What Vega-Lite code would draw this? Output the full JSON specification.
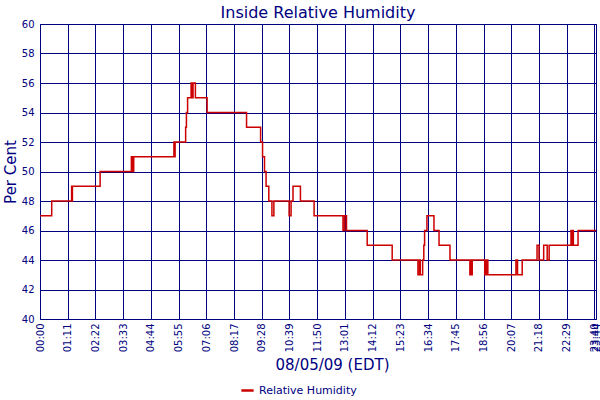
{
  "$schema": "https://vega.github.io/schema/vega-lite/v6.json",
  "width": 556,
  "height": 295,
  "autosize": "none",
  "padding": {"left": 40, "top": 24, "right": 4, "bottom": 81},
  "background": "white",
  "title": {"text": "Inside Relative Humidity", "fontSize": 16, "font": "DejaVu Sans", "fontWeight": "normal", "color": "#000080", "offset": -2, "anchor": "middle"},
  "config": {
    "view": {"stroke": "#000080", "strokeWidth": 1},
    "axis": {"gridColor": "#000080", "gridOpacity": 1, "gridWidth": 1, "domain": false, "ticks": false, "labelColor": "#000080", "labelFont": "DejaVu Sans", "labelFontSize": 10, "titleColor": "#000080", "titleFont": "DejaVu Sans", "titleFontWeight": "normal", "titleFontSize": 15}
  },
  "data": {"values": [
    {"t": 0, "v": 47, "s": "Relative Humidity"},
    {"t": 30, "v": 48, "s": "Relative Humidity"},
    {"t": 81, "v": 49, "s": "Relative Humidity"},
    {"t": 82, "v": 48, "s": "Relative Humidity"},
    {"t": 83, "v": 49, "s": "Relative Humidity"},
    {"t": 154, "v": 50, "s": "Relative Humidity"},
    {"t": 234, "v": 51, "s": "Relative Humidity"},
    {"t": 237, "v": 50, "s": "Relative Humidity"},
    {"t": 240, "v": 51, "s": "Relative Humidity"},
    {"t": 343, "v": 52, "s": "Relative Humidity"},
    {"t": 344, "v": 51, "s": "Relative Humidity"},
    {"t": 346, "v": 52, "s": "Relative Humidity"},
    {"t": 373, "v": 53, "s": "Relative Humidity"},
    {"t": 375, "v": 54, "s": "Relative Humidity"},
    {"t": 378, "v": 55, "s": "Relative Humidity"},
    {"t": 387, "v": 56, "s": "Relative Humidity"},
    {"t": 390, "v": 55, "s": "Relative Humidity"},
    {"t": 392, "v": 56, "s": "Relative Humidity"},
    {"t": 398, "v": 55, "s": "Relative Humidity"},
    {"t": 428, "v": 54, "s": "Relative Humidity"},
    {"t": 529, "v": 53, "s": "Relative Humidity"},
    {"t": 565, "v": 52, "s": "Relative Humidity"},
    {"t": 570, "v": 51, "s": "Relative Humidity"},
    {"t": 575, "v": 50, "s": "Relative Humidity"},
    {"t": 579, "v": 49, "s": "Relative Humidity"},
    {"t": 586, "v": 48, "s": "Relative Humidity"},
    {"t": 594, "v": 47, "s": "Relative Humidity"},
    {"t": 599, "v": 48, "s": "Relative Humidity"},
    {"t": 638, "v": 47, "s": "Relative Humidity"},
    {"t": 643, "v": 48, "s": "Relative Humidity"},
    {"t": 648, "v": 49, "s": "Relative Humidity"},
    {"t": 667, "v": 48, "s": "Relative Humidity"},
    {"t": 702, "v": 47, "s": "Relative Humidity"},
    {"t": 776, "v": 46, "s": "Relative Humidity"},
    {"t": 780, "v": 47, "s": "Relative Humidity"},
    {"t": 785, "v": 46, "s": "Relative Humidity"},
    {"t": 838, "v": 45, "s": "Relative Humidity"},
    {"t": 902, "v": 44, "s": "Relative Humidity"},
    {"t": 968, "v": 43, "s": "Relative Humidity"},
    {"t": 972, "v": 44, "s": "Relative Humidity"},
    {"t": 974, "v": 43, "s": "Relative Humidity"},
    {"t": 980, "v": 44, "s": "Relative Humidity"},
    {"t": 983, "v": 45, "s": "Relative Humidity"},
    {"t": 985, "v": 46, "s": "Relative Humidity"},
    {"t": 991, "v": 47, "s": "Relative Humidity"},
    {"t": 1009, "v": 46, "s": "Relative Humidity"},
    {"t": 1022, "v": 45, "s": "Relative Humidity"},
    {"t": 1050, "v": 44, "s": "Relative Humidity"},
    {"t": 1101, "v": 43, "s": "Relative Humidity"},
    {"t": 1103, "v": 44, "s": "Relative Humidity"},
    {"t": 1105, "v": 43, "s": "Relative Humidity"},
    {"t": 1107, "v": 44, "s": "Relative Humidity"},
    {"t": 1139, "v": 43, "s": "Relative Humidity"},
    {"t": 1141, "v": 44, "s": "Relative Humidity"},
    {"t": 1143, "v": 43, "s": "Relative Humidity"},
    {"t": 1145, "v": 44, "s": "Relative Humidity"},
    {"t": 1147, "v": 43, "s": "Relative Humidity"},
    {"t": 1219, "v": 44, "s": "Relative Humidity"},
    {"t": 1223, "v": 43, "s": "Relative Humidity"},
    {"t": 1235, "v": 44, "s": "Relative Humidity"},
    {"t": 1273, "v": 45, "s": "Relative Humidity"},
    {"t": 1278, "v": 44, "s": "Relative Humidity"},
    {"t": 1290, "v": 45, "s": "Relative Humidity"},
    {"t": 1299, "v": 44, "s": "Relative Humidity"},
    {"t": 1304, "v": 45, "s": "Relative Humidity"},
    {"t": 1360, "v": 46, "s": "Relative Humidity"},
    {"t": 1362, "v": 45, "s": "Relative Humidity"},
    {"t": 1364, "v": 46, "s": "Relative Humidity"},
    {"t": 1366, "v": 45, "s": "Relative Humidity"},
    {"t": 1378, "v": 46, "s": "Relative Humidity"},
    {"t": 1424, "v": 46, "s": "Relative Humidity"}
  ]},
  "mark": {"type": "line", "interpolate": "step-after", "strokeWidth": 1.5, "clip": true},
  "encoding": {
    "x": {"field": "t", "type": "quantitative",
      "scale": {"domain": [0, 1424], "nice": false, "zero": false},
      "axis": {"values": [0, 71, 142, 213, 284, 355, 426, 497, 568, 639, 710, 781, 852, 923, 994, 1065, 1136, 1207, 1278, 1349, 1420, 1424],
        "labelExpr": "pad(floor(datum.value/60), 2, '0', 'left') + ':' + pad(datum.value % 60, 2, '0', 'left')",
        "labelAngle": -90, "labelOverlap": false, "labelBound": false, "labelFlush": false, "labelPadding": 4,
        "title": "08/05/09 (EDT)", "titlePadding": 6, "titleX": 292}},
    "y": {"field": "v", "type": "quantitative",
      "scale": {"domain": [40, 60], "nice": false, "zero": false},
      "axis": {"values": [40, 42, 44, 46, 48, 50, 52, 54, 56, 58, 60], "labelPadding": 6, "title": "Per Cent", "titlePadding": 3, "labelFlush": false, "labelBound": false}},
    "color": {"field": "s", "type": "nominal",
      "scale": {"domain": ["Relative Humidity"], "range": ["#cc0000"]},
      "legend": {"title": null, "orient": "none", "legendX": 200, "legendY": 359, "symbolType": "stroke", "symbolStrokeWidth": 2.5, "symbolSize": 150, "labelColor": "#000080", "labelFont": "DejaVu Sans", "labelFontSize": 11}}
  }
}
